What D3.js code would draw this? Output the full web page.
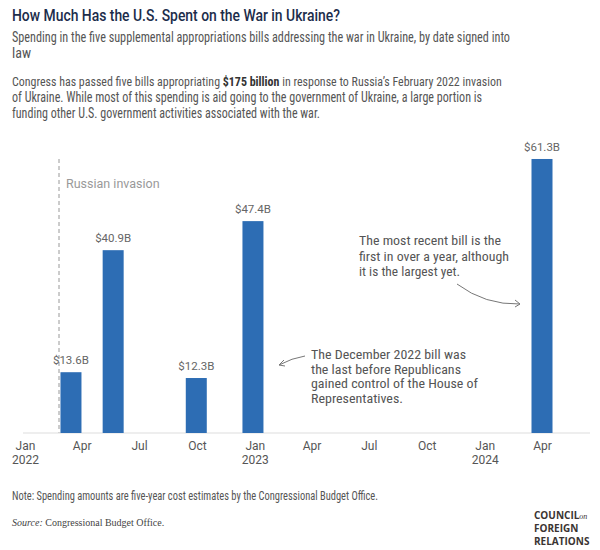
<!DOCTYPE html>
<html>
<head>
<meta charset="utf-8">
<script src="https://cdn.jsdelivr.net/npm/d3@7"></script>
<style>
  body { margin: 0; background: #fff; }
  svg { display: block; font-family: Roboto, "Noto Sans", sans-serif; }
</style>
</head>
<body>
<div id="chart"></div>
<script>
// bills, by date signed
const billDates = ['2022-03-15', '2022-05-21', '2022-09-30', '2022-12-29', '2024-04-01']
const billAmounts = [13.6, 40.9, 12.3, 47.4, 61.3]
const tickDates = ['2022-01-01', '2022-04-01', '2022-07-01', '2022-10-01', '2023-01-01',
  '2023-04-01', '2023-07-01', '2023-10-01', '2024-01-01', '2024-04-01']
const invasionDate = '2022-02-24'

const width = 600
const height = 550
const parse = d3.timeParse('%Y-%m-%d')

const svg = d3.select('#chart')
  .append('svg')
  .attr('width', width)
  .attr('height', height)

// pick a narrow face for the long lines if one is installed
function hasFont (name) {
  const t = svg.append('text').style('font-size', '20px').text('abcdefghijklm WMQ 0123')
  t.style('font-family', 'monospace')
  const w0 = t.node().getComputedTextLength()
  t.style('font-family', `"${name}", monospace`)
  const w1 = t.node().getComputedTextLength()
  t.remove()
  return Math.abs(w1 - w0) > 1
}
const narrow = ['Liberation Sans Narrow', 'Arial Narrow', 'Roboto Condensed', 'DejaVu Sans Condensed']
  .filter(hasFont).map(f => `"${f}"`).concat(['Roboto', 'sans-serif']).join(', ')

// fit a line of text to the width it has in the original
function line (g, str, x, y, w) {
  const t = g.append('text').attr('x', x).attr('y', y).text(str)
  if (w) t.attr('textLength', w).attr('lengthAdjust', 'spacingAndGlyphs')
  return t
}

// header
const head = svg.append('g')
line(head, 'How Much Has the U.S. Spent on the War in Ukraine?', 12, 21, 328)
  .style('font-size', '17px').style('font-weight', 500).style('fill', '#1c2d4b')

const sub = svg.append('g').style('font-family', narrow).style('font-size', '14px').style('fill', '#555')
line(sub, 'Spending in the five supplemental appropriations bills addressing the war in Ukraine, by date signed into', 12, 42, 498)
line(sub, 'law', 12, 58)

// first paragraph line has a bold run, so size it to fit instead of stretching it
const p1 = sub.append('text').attr('x', 12).attr('y', 86)
p1.append('tspan').text('Congress has passed five bills appropriating ')
p1.append('tspan').text('$175 billion').style('font-weight', 700).style('fill', '#333')
p1.append('tspan').text(' in response to Russia\u2019s February 2022 invasion')
const p1w = p1.node().getComputedTextLength()
p1.style('font-size', `${14 * 490 / p1w}px`)

line(sub, 'of Ukraine. While most of this spending is aid going to the government of Ukraine, a large portion is', 12, 102, 470)
line(sub, 'funding other U.S. government activities associated with the war.', 12, 118, 308)

// chart
const baseline = 433
const x = d3.scaleTime()
  .domain([parse('2022-01-01'), parse('2024-04-01')])
  .range([25, 542])
const y = d3.scaleLinear()
  .domain([0, 65])
  .range([baseline, baseline - 65 * 4.47])

const barW = 21
const data = billDates.map((d, i) => ({date: parse(d), value: billAmounts[i]}))

// invasion marker
const inv = x(parse(invasionDate))
svg.append('line')
  .attr('x1', inv).attr('x2', inv)
  .attr('y1', 159).attr('y2', baseline)
  .style('stroke', '#aaa').style('stroke-dasharray', '4,3').style('stroke-width', 1.2)
svg.append('text')
  .attr('x', inv + 7).attr('y', 188)
  .text('Russian invasion')
  .style('font-size', '12.5px').style('fill', '#999')

// axis
const axis = svg.append('g')
  .attr('transform', `translate(0, ${baseline})`)
  .call(d3.axisBottom(x)
    .tickValues(tickDates.map(parse))
    .tickSize(0)
    .tickFormat(d3.timeFormat('%b')))
axis.select('.domain').remove()
axis.append('line')
  .attr('x1', 23).attr('x2', 590)
  .style('stroke', '#ddd').style('stroke-width', 1)
axis.selectAll('.tick text')
  .attr('y', 17).attr('dy', 0)
  .style('font-family', 'Roboto, sans-serif')
  .style('font-size', '12px')
  .style('fill', '#555')
  .each(function (d) {
    if (d.getMonth() === 0) {
      d3.select(this).append('tspan')
        .attr('x', 0).attr('dy', 14)
        .text(d.getFullYear())
    }
  })

// bars
const bar = svg.append('g').selectAll('g')
  .data(data)
  .enter()
  .append('g')

bar.append('rect')
  .attr('x', d => x(d.date) - barW / 2)
  .attr('y', d => y(d.value))
  .attr('width', barW)
  .attr('height', d => baseline - y(d.value))
  .style('fill', '#2d6db4')

bar.append('text')
  .text(d => `$${d.value}B`)
  .attr('x', d => x(d.date))
  .attr('y', d => y(d.value) - 8)
  .attr('text-anchor', 'middle')
  .style('font-size', '11.5px')
  .style('fill', '#666')

// annotations
const note = svg.append('g').style('font-family', narrow).style('font-size', '13.5px').style('fill', '#555')
const n1 = [
  ['The December 2022 bill was', 155],
  ['the last before Republicans', 150],
  ['gained control of the House of', 167],
  ['Representatives.', 92]
]
n1.forEach((l, i) => line(note, l[0], 311, 359 + i * 14.6, l[1]))
const n2 = [
  ['The most recent bill is the', 142],
  ['first in over a year, although', 150],
  ['it is the largest yet.', 101]
]
n2.forEach((l, i) => line(note, l[0], 359, 245 + i * 15.5, l[1]))

const arrows = svg.append('g')
  .style('fill', 'none').style('stroke', '#777').style('stroke-width', 1)
arrows.append('path').attr('d', 'M305,356 Q292,358 279,365')
arrows.append('path').attr('d', 'M284,360 L279,365 L285,366')
arrows.append('path').attr('d', 'M457,284 Q485,305 520,304')
arrows.append('path').attr('d', 'M515,300 L520,304 L515,307')

// footer
const foot = svg.append('g')
line(foot, 'Note: Spending amounts are five-year cost estimates by the Congressional Budget Office.', 12, 500, 366)
  .style('font-family', narrow).style('font-size', '12.5px').style('fill', '#555')
const src = foot.append('text').attr('x', 12).attr('y', 526)
  .style('font-family', '"Liberation Serif", serif').style('font-size', '10px').style('fill', '#444')
src.append('tspan').text('Source:').style('font-style', 'italic')
src.append('tspan').text(' Congressional Budget Office.')

const logo = foot.append('g')
  .style('font-family', '"Open Sans", sans-serif')
  .style('font-weight', 700).style('font-size', '10px').style('fill', '#3b3432')
const c1 = logo.append('text').attr('x', 534).attr('y', 519)
c1.append('tspan').text('COUNCIL')
c1.append('tspan').text('on').style('font-style', 'italic').style('font-family', '"Liberation Serif", serif')
  .style('font-weight', 400).style('font-size', '8px')
logo.append('text').attr('x', 534).attr('y', 532).text('FOREIGN')
logo.append('text').attr('x', 534).attr('y', 545).text('RELATIONS')
</script>
</body>
</html>
